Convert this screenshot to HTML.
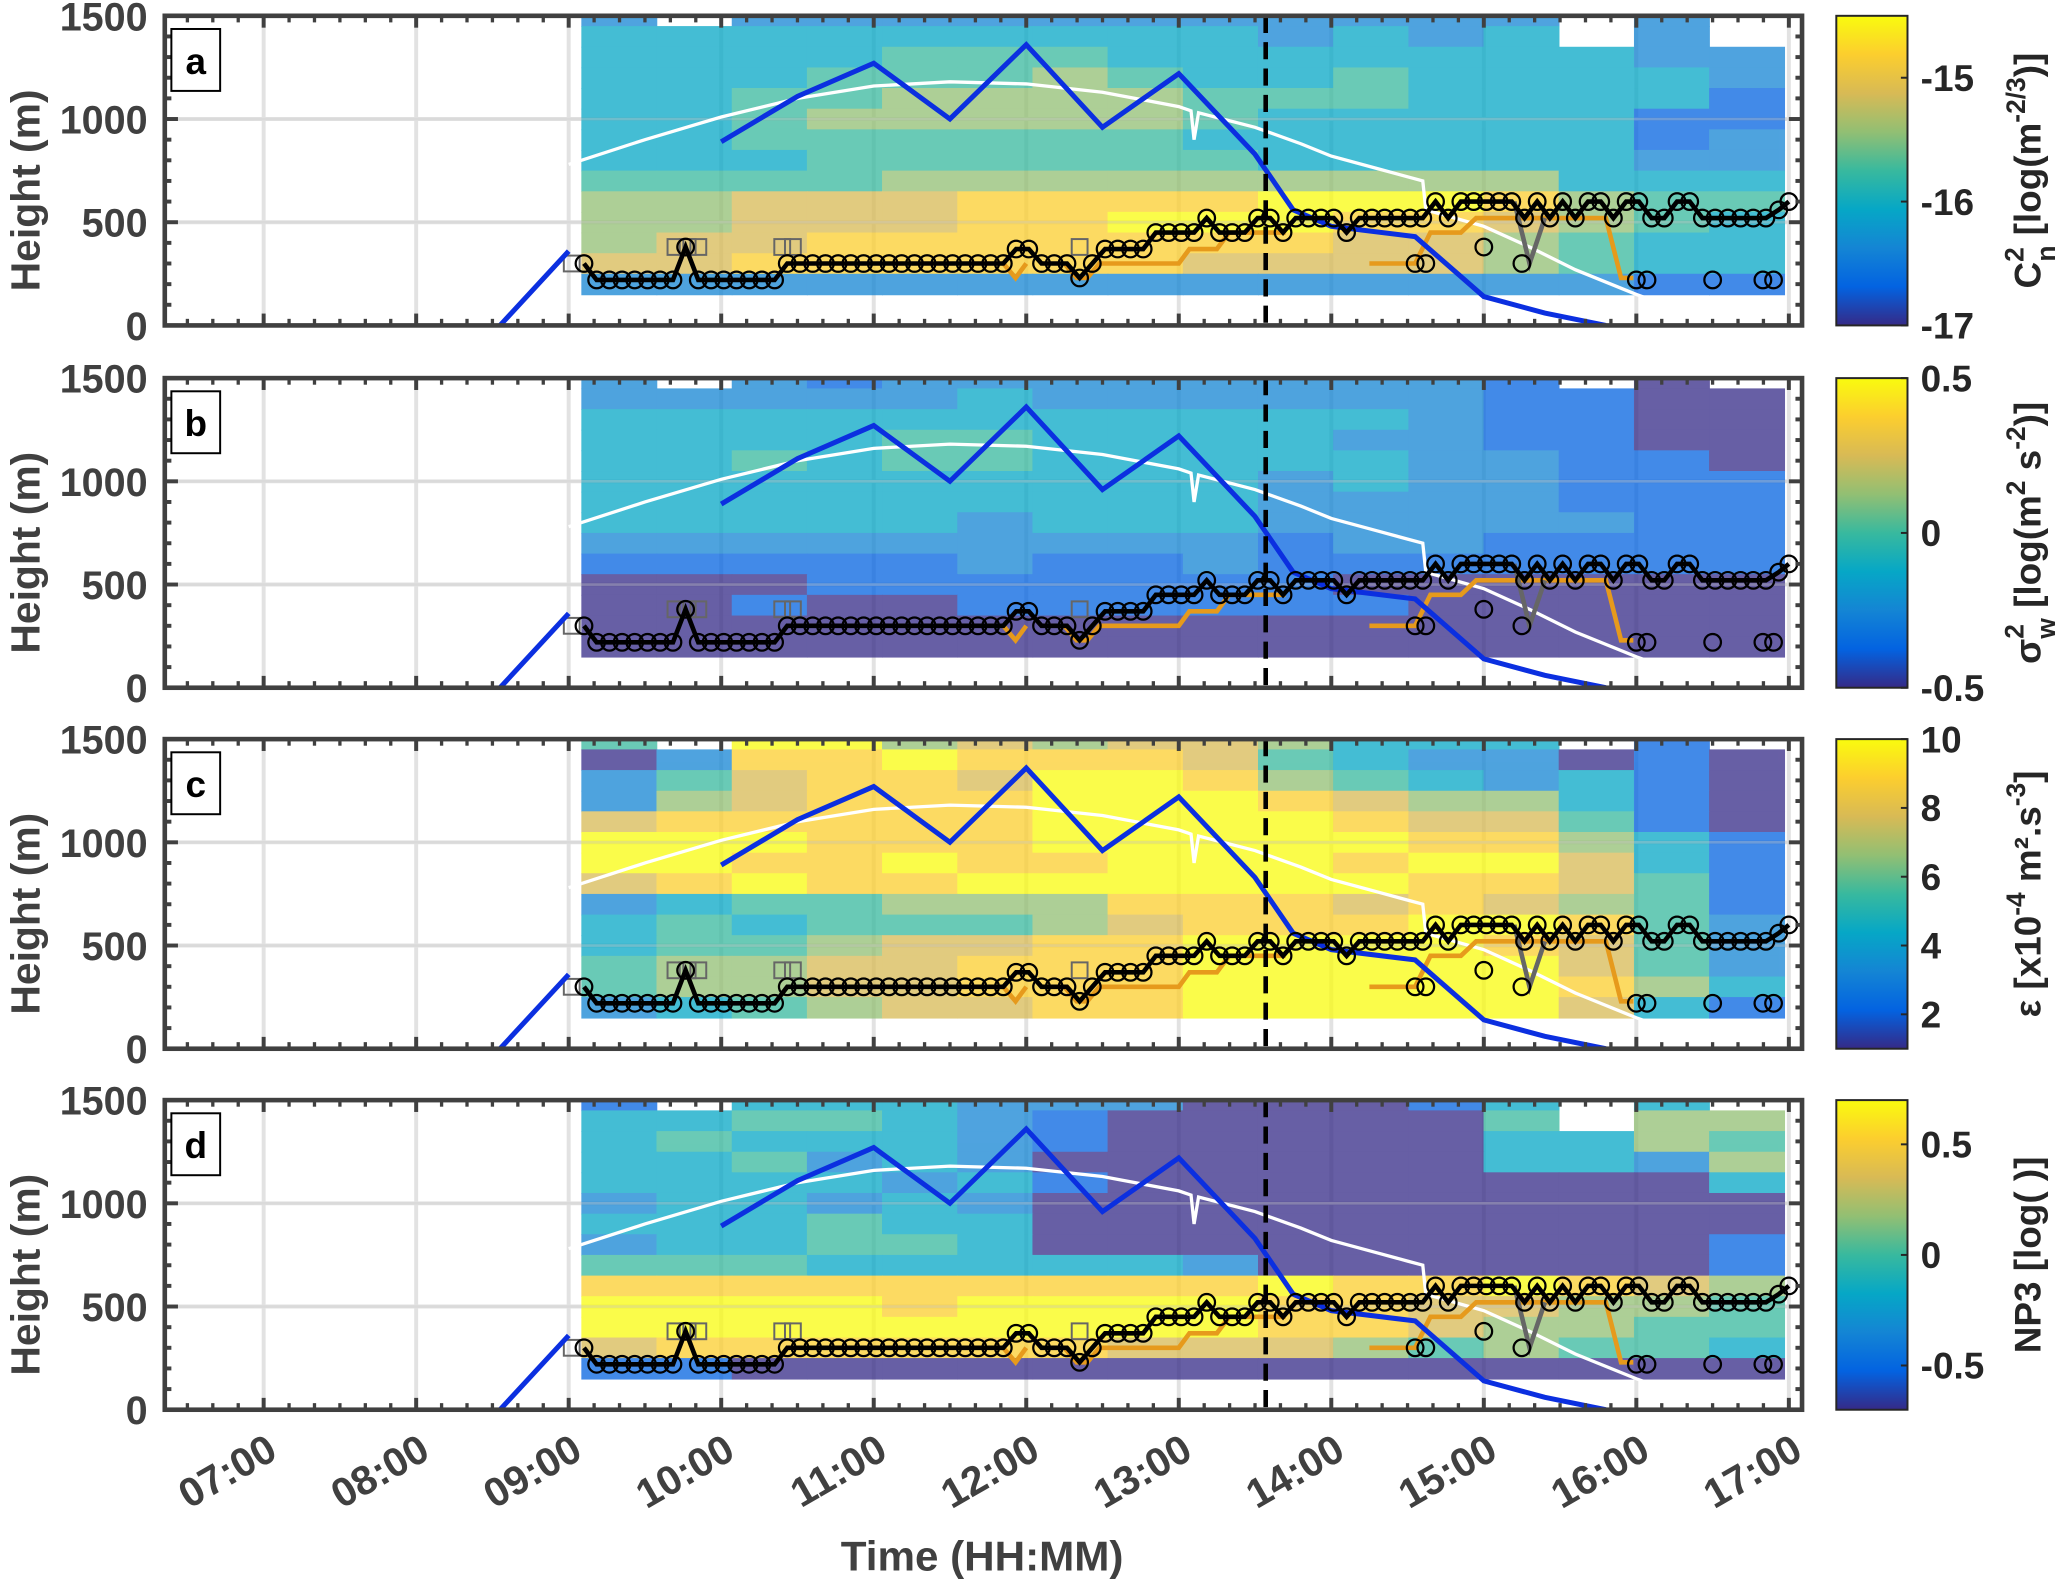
<!DOCTYPE html>
<html><head><meta charset="utf-8"><title>Turbulence time-height panels</title>
<style>
html,body{margin:0;padding:0;background:#fff;}
svg{display:block;font-family:"Liberation Sans",Arial,sans-serif;font-weight:bold;}
</style></head>
<body>
<svg id="chart" xmlns="http://www.w3.org/2000/svg" width="2067" height="1581" viewBox="0 0 1568 1200" preserveAspectRatio="none">
<defs>
<linearGradient id="parula" x1="0" y1="1" x2="0" y2="0">
<stop offset="0" stop-color="rgb(53,42,135)"/><stop offset="0.125" stop-color="rgb(3,99,225)"/><stop offset="0.25" stop-color="rgb(20,133,212)"/><stop offset="0.375" stop-color="rgb(6,167,198)"/><stop offset="0.5" stop-color="rgb(56,185,158)"/><stop offset="0.625" stop-color="rgb(146,191,115)"/><stop offset="0.75" stop-color="rgb(216,186,85)"/><stop offset="0.875" stop-color="rgb(252,206,46)"/><stop offset="1" stop-color="rgb(249,251,14)"/>
</linearGradient>
</defs>
<text x="745" y="1192" text-anchor="middle" font-size="32" fill="#404040">Time (HH:MM)</text>
</svg>
<script>
// ---------- data ----------
const panelLetters = ['a','b','c','d'];
const hourTicks = [7,8,9,10,11,12,13,14,15,16,17];
const hourTickLabels = ['07:00','08:00','09:00','10:00','11:00','12:00','13:00','14:00','15:00','16:00','17:00'];
const heightTicks = [0,500,1000,1500];
const heatRowBottoms = [1450,1350,1250,1150,1050,950,850,750,650,550,450,350,250,150];
const heatColStart = 9.083;
const heatColEnd = 16.97;
const heatA = ["3.33333333333.3.","4444444443434.3.","4444555444444433","4445556544544443","4455666655544442","4456666654444422","4455555544444423","4445555554444433","5555666666666444","6677788889998655","6677788999887654","6778888888776544","7788888877776544","3333333333333322"];
const heatB = ["3.32333333332.1.","3333343333332211","4444444444432211","4444554444332211","4454554444433221","4444444443433222","4444444443333222","4444434443333322","3333333332332222","2222232232222222","1112222222111111","1121122222211111","1111111111111111","1111111111111111"];
const heatC = ["5.99676776444.2.","1388988875433121","3578879986543421","3678889998766421","7888889999877521","9998889999988642","9988988999899742","7898899999988752","3455666888787652","4545556788899853","4556778899998753","5667788899999753","5667788899999864","3456778899999742"];
const heatD = ["2.44433311124.4.","4455432111115.66","4544432111114465","4453431111114436","4444342111111114","3443431111111111","4445441111111111","3445541111111112","5554444431111112","8888888889889876","9999899998877665","9999999998876655","7888888777656554","2211111111111111"];
const blueTimesA = [8.55,9.0];
const blueHeightsA = [0,360];
const blueTimes = [10.0,10.5,11.0,11.5,12.0,12.5,13.0,13.5,13.75,14.0,14.55,15.0,15.4,15.8];
const blueHeights = [890,1110,1270,1000,1360,960,1220,830,560,480,430,140,60,0];
const whiteTimes = [9.0,9.5,10.0,10.5,11.0,11.5,12.0,12.5,13.0,13.08,13.1,13.13,13.5,13.8,14.0,14.3,14.5,14.6,14.62,15.0,15.3,15.6,16.0,16.3,16.6,17.0];
const whiteHeights = [780,900,1010,1100,1160,1180,1170,1130,1060,1040,900,1030,960,880,820,760,720,700,560,480,380,270,150,70,20,0];
const blackStart = 9.10;
const blackStep = 1/12;
const blackHeights = [300,220,220,220,220,220,220,220,380,220,220,220,220,220,220,220,300,300,300,300,300,300,300,300,300,300,300,300,300,300,300,300,300,300,370,370,300,300,300,230,300,370,370,370,370,450,450,450,450,520,450,450,450,520,520,450,520,520,520,520,450,520,520,520,520,520,520,600,520,600,600,600,600,600,520,600,520,600,520,600,600,520,600,600,520,520,600,600,520,520,520,520,520,520,560];
const blackEndTime = 17.0;
const blackEndHeight = 600;
const orangeTimes1 = [11.85,11.93,12.0];
const orangeHeights1 = [300,230,300];
const orangeTimes2 = [12.25,12.33,12.40,12.48,13.0,13.07,13.25,13.33,13.7];
const orangeHeights2 = [300,230,230,300,300,370,370,450,450];
const orangeTimes3 = [14.25,14.55,14.65,14.85,14.95,15.8,15.9,15.98];
const orangeHeights3 = [300,300,450,450,520,520,230,230];
const greyTimes = [15.2,15.3,15.4];
const greyHeights = [600,300,520];
const squareTimes = [9.02,9.7,9.78,9.85,10.4,10.47,12.35];
const squareHeights = [300,380,380,380,380,380,380];
const looseTimes = [14.55,14.62,15.0,15.25,16.0,16.07,16.5,16.83,16.9];
const looseHeights = [300,300,380,300,220,220,220,220,220];
const dashedTime = 13.57;
const cbRanges = [[-17,-14.5],[-0.5,0.5],[1,10],[-0.7,0.7]];
const cbTicks = [[-15,-16,-17],[0.5,0,-0.5],[10,8,6,4,2],[0.5,0,-0.5]];
const cbTickLabels = [['-15','-16','-17'],['0.5','0','-0.5'],['10','8','6','4','2'],['0.5','0','-0.5']];
const cbLevelMin = 1;
const cbLevelMax = 9;

// ---------- layout ----------
const NS='http://www.w3.org/2000/svg';
const svg=document.getElementById('chart');
const plotL=125, plotR=1367, tops=[12,287,561,835], ph=235;
const cbL=1393, cbR=1447;
function xOf(h){return 431.4+(h-9)*115.7;}
function yOf(m,p){return tops[p]+ph-m/1500*ph;}
function mk(tag,attrs,parent){const e=document.createElementNS(NS,tag);for(const k in attrs)e.setAttribute(k,attrs[k]);(parent||svg).appendChild(e);return e;}
const stops=[[53,42,135],[3,99,225],[20,133,212],[6,167,198],[56,185,158],[146,191,115],[216,186,85],[252,206,46],[249,251,14]];
function parula(t){t=Math.max(0,Math.min(1,t));const s=t*8;const i=Math.min(7,Math.floor(s));const f=s-i;const a=stops[i],b=stops[i+1];return 'rgb('+[0,1,2].map(k=>Math.round(a[k]+(b[k]-a[k])*f)).join(',')+')';}
function pts(ts,hs,p){return ts.map((t,i)=>xOf(t).toFixed(1)+','+yOf(hs[i],p).toFixed(1)).join(' ');}
const heats=[heatA,heatB,heatC,heatD];
const blackTimes=blackHeights.map((h,i)=>blackStart+i*blackStep);
const allBT=blackTimes.concat([blackEndTime]);
const allBH=blackHeights.concat([blackEndHeight]);

for(let p=0;p<4;p++){
  const top=tops[p], bot=top+ph;
  const g=mk('g',{});
  
  
  const cp=mk('clipPath',{id:'clip'+p},g);
  mk('rect',{x:plotL,y:top,width:plotR-plotL,height:ph},cp);
  const inner=mk('g',{'clip-path':'url(#clip'+p+')'},g);
  hourTicks.forEach(h=>{
    const l=mk('line',{x1:xOf(h),x2:xOf(h),y1:top,y2:bot,stroke:'#e2e2e2','stroke-width':3},inner);
    
    
  });
  [500,1000].forEach(m=>{
    const l=mk('line',{x1:plotL,x2:plotR,y1:yOf(m,p),y2:yOf(m,p),stroke:'#e2e2e2','stroke-width':3},inner);
    
    
  });
  const hm=mk('g',{opacity:0.75},inner);
  
  
  const rows=heats[p]; const nc=rows[0].length; const cw=(heatColEnd-heatColStart)/nc;
  rows.forEach((row,ri)=>{
    const b=heatRowBottoms[ri]; const t=Math.min(b+100,1500);
    for(let ci=0;ci<nc;ci++){
      const ch=row[ci]; if(ch==='.') continue;
      const x0=xOf(heatColStart+ci*cw), x1=xOf(heatColStart+(ci+1)*cw);
      const r=mk('rect',{x:x0.toFixed(1),y:yOf(t,p).toFixed(1),width:(x1-x0+0.6).toFixed(1),height:(yOf(b,p)-yOf(t,p)+0.6).toFixed(1),fill:parula((parseInt(ch)-cbLevelMin)/(cbLevelMax-cbLevelMin))},hm);
      
      
    }
  });
  [500,1000].forEach(m=>{
    const l=mk('line',{x1:plotL,x2:plotR,y1:yOf(m,p),y2:yOf(m,p),stroke:'#cccccc','stroke-width':2,opacity:0.35},inner);
    
    
  });
  const wl=mk('polyline',{points:pts(whiteTimes,whiteHeights,p),fill:'none',stroke:'#fff','stroke-width':2.5},inner);
  
  
  [[orangeTimes1,orangeHeights1],[orangeTimes2,orangeHeights2],[orangeTimes3,orangeHeights3]].forEach(s=>{
    const o=mk('polyline',{points:pts(s[0],s[1],p),fill:'none',stroke:'#e69a1c','stroke-width':3.5},inner);
    
    
  });
  const gv=mk('polyline',{points:pts(greyTimes,greyHeights,p),fill:'none',stroke:'#666','stroke-width':3.5},inner);
  
  
  squareTimes.forEach((t,i)=>{
    const s=mk('rect',{x:xOf(t)-6,y:yOf(squareHeights[i],p)-6,width:12,height:12,fill:'none',stroke:'#666','stroke-width':1.5},inner);
    
    
  });
  [[blueTimesA,blueHeightsA],[blueTimes,blueHeights]].forEach(s=>{
    const b=mk('polyline',{points:pts(s[0],s[1],p),fill:'none',stroke:'#0b2fe0','stroke-width':3.8,'stroke-linejoin':'miter'},inner);
    
    
  });
  const bl=mk('polyline',{points:pts(allBT,allBH,p),fill:'none',stroke:'#000','stroke-width':3.5},inner);
  
  
  allBT.forEach((t,i)=>{
    const c=mk('circle',{cx:xOf(t).toFixed(1),cy:yOf(allBH[i],p).toFixed(1),r:6.3,fill:'none',stroke:'#000','stroke-width':1.7},inner);
    
    
  });
  looseTimes.forEach((t,i)=>{
    const c=mk('circle',{cx:xOf(t).toFixed(1),cy:yOf(looseHeights[i],p).toFixed(1),r:6.3,fill:'none',stroke:'#000','stroke-width':1.7},inner);
    
    
  });
  const dl=mk('line',{x1:xOf(dashedTime),x2:xOf(dashedTime),y1:top,y2:bot,stroke:'#000','stroke-width':3.5,'stroke-dasharray':'13 7'},inner);
  
  
  const tg=mk('g',{stroke:'#404040'},g);
  
  
  for(let h=6.5;h<=17.01;h+=1/6){
    const x=xOf(h); if(x<plotL+2||x>plotR-2) continue;
    const major=Math.abs(h-Math.round(h))<0.01; const L=major?9:5;
    mk('line',{x1:x,x2:x,y1:bot,y2:bot-L,'stroke-width':major?3:2.5},tg);
    mk('line',{x1:x,x2:x,y1:top,y2:top+L,'stroke-width':major?3:2.5},tg);
  }
  for(let m=0;m<=1500;m+=100){
    const y=yOf(m,p); const major=m%500===0; const L=major?10:5;
    mk('line',{x1:plotL,x2:plotL+L,y1:y,y2:y,'stroke-width':3},tg);
    mk('line',{x1:plotR,x2:plotR-L,y1:y,y2:y,'stroke-width':3},tg);
  }
  const fr=mk('rect',{x:plotL,y:top,width:plotR-plotL,height:ph,fill:'none',stroke:'#404040','stroke-width':3.5},g);
  
  
  heightTicks.forEach(m=>{
    const t=mk('text',{x:112,y:yOf(m,p)+11,'text-anchor':'end','font-size':30,fill:'#404040'},g);
    
    
    t.textContent=String(m);
  });
  const yt=mk('text',{x:0,y:0,'text-anchor':'middle','font-size':31,fill:'#404040',transform:'translate(30,'+(top+ph/2+15)+') rotate(-90)'},g);
  
  
  yt.textContent='Height (m)';
  const lb=mk('rect',{x:130,y:top+10,width:37,height:47,fill:'#fff',stroke:'#000','stroke-width':1.5},g);
  
  
  const lt=mk('text',{x:148.5,y:top+44,'text-anchor':'middle','font-size':28,fill:'#000'},g);
  
  
  lt.textContent=panelLetters[p];
  const cb=mk('rect',{x:cbL,y:top,width:cbR-cbL,height:ph,fill:'url(#parula)',stroke:'#262626','stroke-width':1.5},g);
  
  
  const rg=cbRanges[p];
  cbTicks[p].forEach((v,i)=>{
    const y=bot-(v-rg[0])/(rg[1]-rg[0])*ph;
    mk('line',{x1:cbR,x2:cbR-5,y1:y,y2:y,stroke:'#262626','stroke-width':1.5},g);
    const t=mk('text',{x:1457,y:y+10,'font-size':28,fill:'#262626'},g);
    
    
    t.textContent=cbTickLabels[p][i];
  });
}
hourTicks.forEach((h,i)=>{
  const x=xOf(h)+12, y=1106;
  const t=mk('text',{x:x,y:y,'text-anchor':'end','font-size':31,fill:'#404040',transform:'rotate(-30 '+x+' '+y+')'});
  
  
  t.textContent=hourTickLabels[i];
});
function cbTitle(p,parts){
  const cy=tops[p]+ph/2;
  const t=mk('text',{x:0,y:0,'text-anchor':'middle','font-size':28,fill:'#262626',transform:'translate(1548,'+cy+') rotate(-90)'});
  
  
  parts.forEach(q=>{const s=mk('tspan',q[1],t);s.textContent=q[0];});
}
cbTitle(0,[['C',{}],['2',{'font-size':20,dy:-13}],['n',{'font-size':20,dx:-11,dy:24}],[' [log(m',{dy:-11}],['-2/3',{'font-size':20,dy:-12}],[')]',{dy:12}]]);
cbTitle(1,[['σ',{}],['2',{'font-size':20,dy:-13}],['w',{'font-size':20,dx:-11,dy:24}],['  [log(m',{dy:-11}],['2',{'font-size':20,dy:-12}],[' s',{dy:12}],['-2',{'font-size':20,dy:-12}],[')]',{dy:12}]]);
cbTitle(2,[['ε [x10',{}],['-4',{'font-size':20,dy:-12}],[' m².s',{dy:12}],['-3',{'font-size':20,dy:-12}],[']',{dy:12}]]);
cbTitle(3,[['NP3 [log( )]',{}]]);
</script>
</body></html>
